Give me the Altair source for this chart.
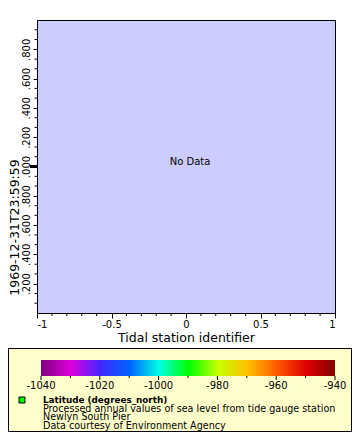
import json
import altair as alt
import pandas as pd

FONT = "DejaVu Sans"

# ---- main axes ----
x_ticks = [-1, -0.5, 0, 0.5, 1]
x_labels = ["-1", "-0.5", "0", "0.5", "1"]
x_minor = [-0.9, -0.8, -0.7, -0.6, -0.4, -0.3, -0.2, -0.1,
           0.1, 0.2, 0.3, 0.4, 0.6, 0.7, 0.8, 0.9]

y_ticks = [-0.8, -0.6, -0.4, -0.2, 0, 0.2, 0.4, 0.6, 0.8]
y_labels = [".200", ".400", ".600", ".800", ".000", ".200", ".400", ".600", ".800"]
y_minor = [-0.933, -0.867, -0.733, -0.667, -0.533, -0.467, -0.333, -0.267,
           -0.133, -0.067, 0.067, 0.133, 0.267, 0.333, 0.467, 0.533,
           0.667, 0.733, 0.867, 0.933]
y_zero = [0]

x_title = "Tidal station identifier"
y_title = "1969-12-31T23:59:59"
no_data = ["No Data"]

# ---- colour bar ----
cbar_ticks = [-1040, -1020, -1000, -980, -960, -940]
cbar_labels = ["-1040", "-1020", "-1000", "-980", "-960", "-940"]
cbar_minor = [-1030, -1010, -990, -970, -950]
cbar_stops = [-1040, -1030, -1020, -1010, -1000, -990, -980, -970, -960, -950, -940]
cbar_colors = ["#800080", "#e000e0", "#4028ff", "#0064ff", "#00ffe0", "#00ff00",
               "#c8ff00", "#ffc000", "#ff5a00", "#e00000", "#800000"]

legend_title = "Latitude (degrees_north)"
legend_lines = ["Processed annual values of sea level from tide gauge station",
                "Newlyn South Pier",
                "Data courtesy of Environment Agency"]

W, H = 298, 293


def lab_expr(vals, labs):
    return "%s[indexof(%s, datum.value)]" % (json.dumps(labs), json.dumps(vals))


x_scale = alt.Scale(domain=[-1, 1], nice=False, zero=False)
y_scale = alt.Scale(domain=[-1, 1], nice=False, zero=False)
cb_scale = alt.Scale(domain=[-1040, -940], range=[4, 298], nice=False, zero=False)

y_enc = alt.Y("y:Q", scale=y_scale, axis=alt.Axis(
    values=y_ticks, labelExpr=lab_expr(y_ticks, y_labels), labelAngle=270,
    labelAlign="center", labelBaseline="bottom", labelPadding=2, tickSize=4,
    labelFont=FONT, labelFontSize=10, labelColor="black",
    tickColor="black", domainColor="black", grid=False,
    title=y_title, titleFont=FONT, titleFontSize=12.5, titleFontWeight="normal",
    titleColor="black", titleAngle=270, titleAlign="center", titleBaseline="middle",
    titleX=-22.5, titleY=207))

one = pd.DataFrame({"a": [0]})

legend_box = alt.Chart(one).mark_rect(fill="#ffffcc", stroke="black", strokeWidth=1).encode(
    x=alt.value(-28.5), x2=alt.value(314.5), y=alt.value(328.5), y2=alt.value(411.5))

main = alt.Chart(pd.DataFrame({"x": [0], "y": [0], "t": no_data})).mark_text(
    font=FONT, fontSize=10, color="black", dx=4, dy=-5).encode(
    x=alt.X("x:Q", scale=x_scale, axis=alt.Axis(
        values=x_ticks, labelExpr=lab_expr(x_ticks, x_labels), tickSize=5,
        labelPadding=1, labelFont=FONT, labelFontSize=10, labelColor="black",
        tickColor="black", domainColor="black", grid=False,
        title=x_title, titleFont=FONT, titleFontSize=12.5, titleFontWeight="normal",
        titleColor="black", titlePadding=2)),
    y=y_enc, text="t:N")

xminor = alt.Chart(pd.DataFrame({"x": x_minor})).mark_rule(color="black", strokeWidth=1).encode(
    x=alt.X("x:Q", scale=x_scale, axis=None), y=alt.value(H), y2=alt.value(H + 3))

yminor = alt.Chart(pd.DataFrame({"y": y_minor})).mark_rule(color="black", strokeWidth=1).encode(
    y=y_enc, x=alt.value(-2.5), x2=alt.value(0))

yzero = alt.Chart(pd.DataFrame({"y": y_zero})).mark_rule(color="black", strokeWidth=3).encode(
    y=y_enc, x=alt.value(-7), x2=alt.value(0))

cbar = alt.Chart(alt.sequence(-1040, -940, 0.5, as_="v")).transform_calculate(
    v2="min(datum.v + 1, -940)").mark_rect(strokeWidth=0).encode(
    x=alt.X("v:Q", scale=cb_scale, axis=None), x2="v2:Q",
    y=alt.value(340), y2=alt.value(356),
    color=alt.Color("v:Q", scale=alt.Scale(domain=cbar_stops, range=cbar_colors,
                                           interpolate="rgb"), legend=None))

cb_major = alt.Chart(pd.DataFrame({"v": cbar_ticks})).mark_rule(color="black").encode(
    x=alt.X("v:Q", scale=cb_scale, axis=None), y=alt.value(356), y2=alt.value(360))
cb_minor = alt.Chart(pd.DataFrame({"v": cbar_minor})).mark_rule(color="black").encode(
    x=alt.X("v:Q", scale=cb_scale, axis=None), y=alt.value(356), y2=alt.value(358))
cb_labels = alt.Chart(pd.DataFrame({"v": cbar_ticks, "l": cbar_labels})).mark_text(
    font=FONT, fontSize=10, color="black", baseline="middle", align="center").encode(
    x=alt.X("v:Q", scale=cb_scale, axis=None), y=alt.value(365.5), text="l:N")

swatch = alt.Chart(one).mark_rect(fill="#00ff00", stroke="black", strokeWidth=1).encode(
    x=alt.value(-18), x2=alt.value(-12), y=alt.value(377), y2=alt.value(383))

leg_title = alt.Chart(one).mark_text(
    text=legend_title, font=FONT, fontSize=8.8, fontWeight="bold", color="black",
    align="left", baseline="alphabetic").encode(x=alt.value(6), y=alt.value(383))

leg_lines = alt.Chart(one).mark_text(
    text=legend_lines, font=FONT, fontSize=9.6, lineHeight=8.7, color="black",
    align="left", baseline="alphabetic").encode(x=alt.value(6), y=alt.value(391.5))

chart = alt.layer(
    legend_box, main, xminor, yminor, yzero, cbar, cb_major, cb_minor, cb_labels,
    swatch, leg_title, leg_lines
).resolve_scale(x="independent").properties(
    width=W, height=H,
    autosize=alt.AutoSizeParams(type="none"),
    padding={"left": 29, "top": 12, "right": 17, "bottom": 119},
    background="white",
).configure_view(fill="#ccccff", stroke="black", strokeWidth=1)

chart.save("out.html", embed_options={"renderer": "svg", "actions": False})
